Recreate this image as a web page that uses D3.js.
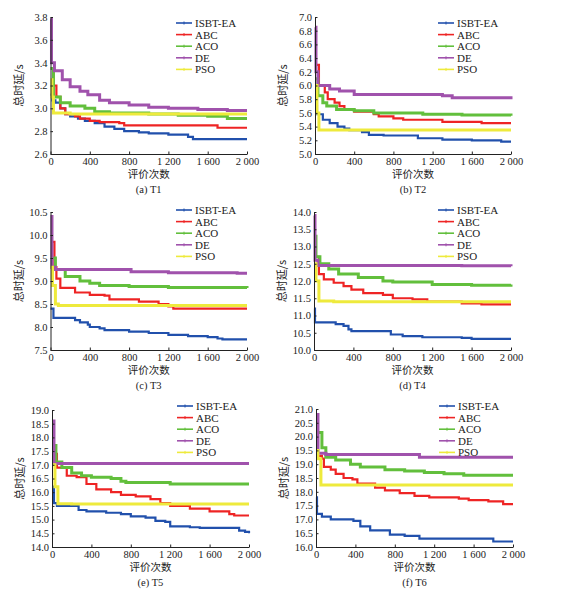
<!DOCTYPE html>
<html>
<head>
<meta charset="utf-8">
<script src="https://cdn.jsdelivr.net/npm/d3@7"></script>
<style>
  body { margin: 0; background: #fff; }
  text { font-family: "Liberation Serif", "Times New Roman", serif; fill: #222; }
  .cjk { font-family: "Noto Sans CJK SC", sans-serif; }
</style>
</head>
<body>
<div id="chart"></div>
<script>
// algorithms and their colours
var seriesNames = ["ISBT-EA", "ABC", "ACO", "DE", "PSO"];
var seriesColors = ["#2150ac", "#ee2424", "#62bf3c", "#a052ac", "#eeea3c"];
var seriesWidths = [2.2, 2.2, 3, 3, 3];

var xTicks = [0, 400, 800, 1200, 1600, 2000];
var xTickLabels = ["0", "400", "800", "1 200", "1 600", "2 000"];

var captions = ["(a) T1", "(b) T2", "(c) T3", "(d) T4", "(e) T5", "(f) T6"];
var yDomains = [[2.6, 3.8], [5.0, 7.0], [7.5, 10.5], [10.0, 14.0], [14.0, 19.0], [16.0, 21.0]];
var yTicks = [
    [2.6, 2.8, 3.0, 3.2, 3.4, 3.6, 3.8],
    [5.0, 5.2, 5.4, 5.6, 5.8, 6.0, 6.2, 6.4, 6.6, 6.8, 7.0],
    [7.5, 8.0, 8.5, 9.0, 9.5, 10.0, 10.5],
    [10.0, 10.5, 11.0, 11.5, 12.0, 12.5, 13.0, 13.5, 14.0],
    [14.0, 14.5, 15.0, 15.5, 16.0, 16.5, 17.0, 17.5, 18.0, 18.5, 19.0],
    [16.0, 16.5, 17.0, 17.5, 18.0, 18.5, 19.0, 19.5, 20.0, 20.5, 21.0]
];

// convergence curves, [evaluations, total delay] step points
var t1 = [
    [[0,3.12],[20,3.07],[50,3.05],[100,3.0],[150,2.95],[200,2.93],[280,2.91],[350,2.89],[450,2.87],[550,2.84],[650,2.82],[750,2.8],[900,2.79],[1000,2.78],[1200,2.77],[1400,2.75],[1450,2.73],[2000,2.73]],
    [[5,3.35],[30,3.2],[60,3.1],[100,3.0],[150,2.95],[250,2.93],[300,2.91],[400,2.89],[500,2.88],[700,2.87],[750,2.85],[1700,2.83],[2000,2.83]],
    [[0,3.35],[30,3.1],[100,3.05],[200,3.02],[350,3.0],[450,2.97],[600,2.96],[1000,2.95],[1300,2.94],[1600,2.93],[1800,2.91],[2000,2.91]],
    [[0,3.78],[10,3.4],[40,3.33],[120,3.25],[200,3.19],[300,3.15],[380,3.12],[500,3.07],[600,3.05],[800,3.03],[1000,3.01],[1200,3.0],[1500,2.99],[1800,2.98],[2000,2.98]],
    [[0,3.25],[15,3.1],[30,2.96],[200,2.95],[2000,2.95]]
];
var t2 = [
    [[0,5.7],[20,5.58],[80,5.5],[150,5.45],[230,5.4],[300,5.37],[350,5.35],[480,5.32],[550,5.28],[700,5.27],[1050,5.23],[1300,5.21],[1600,5.2],[1900,5.18],[2000,5.18]],
    [[10,6.3],[40,6.0],[100,5.9],[130,5.8],[200,5.75],[250,5.7],[300,5.65],[400,5.62],[600,5.58],[650,5.55],[800,5.52],[900,5.5],[1300,5.47],[1700,5.45],[2000,5.45]],
    [[0,6.1],[30,5.85],[80,5.75],[120,5.7],[220,5.65],[400,5.63],[600,5.6],[1100,5.58],[1500,5.57],[2000,5.56]],
    [[0,6.85],[10,6.2],[30,6.0],[150,5.95],[250,5.92],[400,5.87],[1300,5.85],[1400,5.82],[2000,5.8]],
    [[0,6.0],[20,5.6],[40,5.35],[2000,5.35]]
];
var t3 = [
    [[0,8.4],[30,8.2],[250,8.15],[300,8.1],[380,8.05],[400,8.0],[500,7.97],[550,7.93],[800,7.9],[1000,7.87],[1200,7.83],[1400,7.8],[1600,7.78],[1700,7.75],[1750,7.73],[2000,7.73]],
    [[5,9.85],[40,9.3],[60,9.05],[100,8.85],[250,8.75],[400,8.7],[550,8.68],[600,8.6],[900,8.55],[1100,8.5],[1200,8.45],[1250,8.4],[2000,8.4]],
    [[10,9.5],[50,9.25],[150,9.1],[300,9.0],[400,8.95],[500,8.9],[800,8.88],[1200,8.86],[2000,8.85]],
    [[0,10.4],[15,9.3],[50,9.25],[820,9.2],[1200,9.18],[1900,9.17],[2000,9.17]],
    [[0,9.3],[20,8.9],[50,8.5],[80,8.47],[2000,8.47]]
];
var t4 = [
    [[0,11.2],[10,10.8],[220,10.75],[300,10.7],[350,10.6],[380,10.55],[780,10.45],[900,10.4],[1100,10.37],[1500,10.35],[1600,10.32],[2000,10.32]],
    [[10,12.7],[50,12.2],[100,12.05],[200,11.95],[300,11.85],[380,11.75],[500,11.65],[700,11.6],[800,11.5],[1000,11.47],[1150,11.4],[1500,11.35],[1700,11.32],[2000,11.32]],
    [[0,13.3],[20,12.7],[60,12.5],[150,12.35],[250,12.2],[450,12.1],[700,12.0],[800,11.97],[1200,11.9],[1600,11.88],[2000,11.9]],
    [[0,13.9],[10,12.6],[40,12.45],[1500,12.44],[2000,12.43]],
    [[0,12.5],[20,12.0],[50,11.42],[200,11.4],[2000,11.4]]
];
var t5 = [
    [[0,16.2],[20,15.6],[50,15.5],[270,15.35],[350,15.3],[550,15.25],[700,15.2],[800,15.12],[950,15.07],[1050,14.95],[1150,14.92],[1200,14.75],[1400,14.72],[1500,14.7],[1900,14.6],[1960,14.55],[2000,14.5]],
    [[20,17.4],[50,16.9],[150,16.6],[250,16.55],[350,16.3],[450,16.1],[600,16.0],[700,15.9],[850,15.85],[1000,15.75],[1100,15.6],[1200,15.5],[1400,15.4],[1600,15.3],[1800,15.2],[1850,15.15],[2000,15.15]],
    [[0,17.7],[40,17.1],[100,16.9],[200,16.7],[300,16.6],[400,16.55],[600,16.5],[700,16.4],[750,16.35],[1200,16.3],[2000,16.3]],
    [[0,18.6],[20,17.05],[2000,17.05]],
    [[0,17.0],[30,16.2],[60,15.58],[200,15.57],[2000,15.57]]
];
var t6 = [
    [[0,17.8],[10,17.2],[60,17.1],[150,17.0],[380,16.95],[450,16.75],[550,16.6],[750,16.45],[900,16.4],[1050,16.3],[1800,16.2],[2000,16.2]],
    [[20,19.3],[60,19.2],[80,18.9],[150,18.8],[200,18.65],[280,18.5],[370,18.45],[420,18.3],[600,18.15],[700,18.05],[850,17.95],[1000,17.85],[1150,17.8],[1450,17.75],[1550,17.7],[1750,17.65],[1900,17.55],[2000,17.55]],
    [[0,20.15],[60,19.6],[100,19.25],[200,19.15],[350,19.0],[450,18.9],[700,18.8],[900,18.75],[1100,18.7],[1300,18.65],[1500,18.6],[2000,18.6]],
    [[0,20.8],[20,19.4],[100,19.35],[1050,19.25],[2000,19.25]],
    [[0,19.5],[20,19.2],[50,18.25],[2000,18.25]]
];
var allData = [t1, t2, t3, t4, t5, t6];

// plot areas in page pixels
var layout = [
    {left: 50.5, right: 247, top: 17, bottom: 154, legendX: 176},
    {left: 315, right: 511, top: 17, bottom: 154, legendX: 438},
    {left: 50.5, right: 247, top: 212, bottom: 350, legendX: 176},
    {left: 314, right: 511, top: 212, bottom: 350, legendX: 438},
    {left: 52, right: 249, top: 410, bottom: 547, legendX: 177},
    {left: 316, right: 513, top: 409, bottom: 547, legendX: 439}
];
var legendTops = [23, 23, 210, 210, 406, 406];

var width = 568;
var height = 598;

var svg = d3.select("#chart")
    .append("svg")
    .attr("width", width)
    .attr("height", height);

allData.forEach(function(panelData, i) {
    var L = layout[i];

    var x = d3.scaleLinear().domain([0, 2000]).range([L.left, L.right]);
    var y = d3.scaleLinear().domain(yDomains[i]).range([L.bottom, L.top]);

    var g = svg.append("g");

    var line = d3.line()
        .x(function(d) { return x(d[0]); })
        .y(function(d) { return y(d[1]); })
        .curve(d3.curveStepAfter);

    panelData.forEach(function(s, k) {
        g.append("path")
            .datum(s)
            .attr("fill", "none")
            .attr("stroke", seriesColors[k])
            .attr("stroke-width", seriesWidths[k])
            .attr("d", line);
    });

    // axes with short inward ticks
    var xAxis = g.append("g")
        .attr("transform", "translate(0," + L.bottom + ")")
        .call(d3.axisBottom(x).tickValues(xTicks).tickSizeInner(-2.5).tickSizeOuter(0)
            .tickFormat(function(d, j) { return xTickLabels[j]; }));
    xAxis.selectAll("text").attr("dy", null).attr("y", 11)
        .style("font-size", "10.5px").style("font-family", "Liberation Serif");

    var yAxis = g.append("g")
        .attr("transform", "translate(" + L.left + ",0)")
        .call(d3.axisLeft(y).tickValues(yTicks[i]).tickSizeInner(-2.5).tickSizeOuter(0)
            .tickFormat(d3.format(".1f")));
    yAxis.selectAll("text").attr("x", -3)
        .style("font-size", "10.5px").style("font-family", "Liberation Serif");

    g.selectAll(".domain").attr("stroke", "#222").attr("stroke-width", 1);
    g.selectAll(".tick line").attr("stroke", "#222");

    // axis titles and caption
    g.append("text")
        .attr("class", "cjk")
        .attr("x", (L.left + L.right) / 2)
        .attr("y", L.bottom + 24)
        .attr("text-anchor", "middle")
        .style("font-size", "10.5px")
        .text("评价次数");

    g.append("text")
        .attr("x", (L.left + L.right) / 2)
        .attr("y", L.bottom + 38.5)
        .attr("text-anchor", "middle")
        .style("font-size", "10.5px")
        .text(captions[i]);

    g.append("text")
        .attr("class", "cjk")
        .attr("transform", "translate(" + (L.left - 28) + "," + ((L.top + L.bottom) / 2) + ") rotate(-90)")
        .attr("text-anchor", "middle")
        .style("font-size", "11px")
        .text("总时延/s");

    // legend
    var legend = g.append("g")
        .attr("transform", "translate(" + L.legendX + "," + legendTops[i] + ")");

    seriesNames.forEach(function(name, k) {
        var row = legend.append("g").attr("transform", "translate(0," + (k * 11.6) + ")");
        row.append("line")
            .attr("x1", 0).attr("x2", 16)
            .attr("stroke", seriesColors[k])
            .attr("stroke-width", 1.6);
        row.append("line")
            .attr("x1", 8).attr("x2", 8).attr("y1", -1.5).attr("y2", 1.5)
            .attr("stroke", seriesColors[k])
            .attr("stroke-width", 1);
        row.append("text")
            .attr("x", 19)
            .attr("y", 4)
            .style("font-size", "11px")
            .text(name);
    });
});
</script>
</body>
</html>
